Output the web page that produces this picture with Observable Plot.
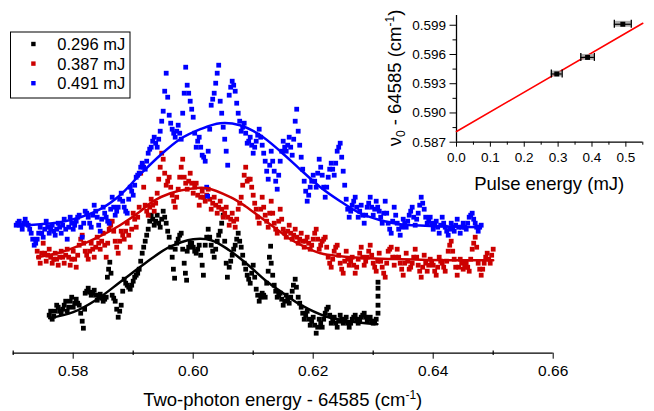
<!DOCTYPE html>
<html><head><meta charset="utf-8">
<script src="https://cdn.jsdelivr.net/npm/d3@7"></script>
<script src="https://cdn.jsdelivr.net/npm/@observablehq/plot@0.6"></script>
<style>
html,body{margin:0;padding:0;background:#fff;}
#wrap{position:relative;width:654px;height:411px;overflow:hidden;}
#inset{position:absolute;left:380px;top:0;}
</style></head><body><div id="wrap"><div id="main"></div><div id="inset"></div></div>
<script>
// ---------- main chart data: [two-photon energy - 64585 (cm^-1), signal (arb. units)] ----------
const seriesNames = ["0.296 mJ", "0.387 mJ", "0.491 mJ"];

const data0296 = [[.5760,38],[.57625,42],[.5765,34],[.57675,37],[.5770,42],[.57725,48],[.5775,46],[.57775,42],[.5780,40],[.57825,44],[.5785,48],[.57875,52],[.5790,42],[.57925,46],[.5795,52],[.57975,56],[.5800,46],[.58025,50],[.5805,54],[.58075,50],[.5810,48],[.58125,40],[.5815,32],[.5817,25],[.5819,44],[.5820,60],[.58225,62],[.5825,65],[.58275,61],[.5830,58],[.58325,60],[.5835,63],[.58375,58],[.5840,53],[.58425,56],[.5845,59],[.58475,55],[.5850,52],[.58525,54],[.5855,56],[.5857,76],[.5859,84],[.5861,91],[.5863,80],[.5865,58],[.58675,55],[.5870,52],[.58725,44],[.5875,36],[.58775,42],[.5880,48],[.58825,62],[.5885,74],[.58875,70],[.5890,68],[.58925,66],[.5895,64],[.58975,68],[.5900,72],[.59025,76],[.5905,78],[.59075,80],[.5910,84],[.59125,92],[.5915,100],[.59175,106],[.5920,112],[.59225,118],[.5925,124],[.59275,132],[.5930,138],[.59325,134],[.5935,128],[.59375,132],[.5940,138],[.59425,130],[.5945,126],[.59475,134],[.5950,142],[.59525,136],[.5955,130],[.59575,122],[.5960,116],[.59625,106],[.5965,96],[.5967,84],[.5969,75],[.5970,104],[.59725,110],[.5975,114],[.59775,118],[.5980,120],[.59825,104],[.5985,90],[.5987,80],[.5989,73],[.5990,102],[.59925,106],[.5995,110],[.59975,110],[.6000,106],[.60025,102],[.6005,100],[.60075,104],[.6010,108],[.60125,98],[.6015,88],[.6017,78],[.6020,108],[.60225,116],[.6025,124],[.60275,116],[.6030,108],[.60325,102],[.6035,96],[.60375,104],[.6040,112],[.60425,118],[.6045,122],[.60475,130],[.6050,138],[.60525,112],[.6055,90],[.6057,76],[.6060,86],[.60625,92],[.6065,98],[.60675,104],[.6070,108],[.60725,114],[.6075,120],[.60775,112],[.6080,106],[.60825,98],[.6085,90],[.60875,84],[.6090,78],[.60925,74],[.6095,70],[.60975,80],[.6100,88],[.61025,76],[.6105,64],[.61075,58],[.6110,52],[.61125,56],[.6115,60],[.61175,58],[.6120,56],[.61225,70],[.6125,82],[.6127,96],[.6129,107],[.6130,90],[.61325,78],[.6135,68],[.61375,62],[.6140,56],[.61425,58],[.6145,60],[.61475,54],[.6150,48],[.61525,52],[.6155,58],[.61575,54],[.6160,50],[.61625,56],[.6165,62],[.6167,68],[.6170,74],[.6172,66],[.6175,56],[.61775,50],[.6180,46],[.61825,40],[.6185,34],[.61875,38],[.6190,42],[.61925,34],[.6195,28],[.61975,32],[.6200,36],[.62025,28],[.6205,20],[.62075,26],[.6210,34],[.62125,30],[.6215,26],[.62175,34],[.6220,40],[.62225,44],[.6225,46],[.62275,38],[.6230,30],[.62325,32],[.6235,36],[.62375,30],[.6240,26],[.62425,32],[.6245,38],[.62475,34],[.6250,30],[.62525,32],[.6255,36],[.62575,30],[.6260,26],[.62625,30],[.6265,34],[.62675,36],[.6270,38],[.62725,34],[.6275,30],[.62775,32],[.6280,36],[.62825,38],[.6285,40],[.62875,36],[.6290,32],[.62925,34],[.6295,36],[.62975,32],[.6300,30],[.63025,32],[.6305,34],[.6308,40],[.6308,48],[.6308,57],[.6308,65],[.6308,71]];

const data0387 = [[.5740,102],[.57425,96],[.5745,90],[.57475,100],[.5750,110],[.57525,100],[.5755,92],[.57575,98],[.5760,104],[.57625,96],[.5765,90],[.57675,94],[.5770,100],[.57725,94],[.5775,88],[.57775,96],[.5780,102],[.57825,96],[.5785,90],[.57875,98],[.5790,104],[.57925,96],[.5795,88],[.57975,94],[.5800,102],[.58025,94],[.5805,86],[.58075,98],[.5810,108],[.58125,114],[.5815,118],[.58175,110],[.5820,102],[.58225,98],[.5825,94],[.58275,102],[.5830,110],[.58325,104],[.5835,96],[.58375,106],[.5840,116],[.58425,110],[.5845,104],[.58475,112],[.5850,120],[.58525,108],[.5855,96],[.58575,110],[.5860,124],[.58625,128],[.5865,132],[.58675,122],[.5870,112],[.58725,106],[.5875,100],[.58775,112],[.5880,122],[.58825,118],[.5885,114],[.58875,122],[.5890,130],[.58925,118],[.5895,106],[.58975,124],[.5900,140],[.59025,134],[.5905,126],[.59075,136],[.5910,146],[.59125,180],[.5915,188],[.59175,166],[.5920,148],[.59225,142],[.5925,138],[.59275,146],[.5930,154],[.59325,148],[.5935,142],[.59375,150],[.5940,160],[.59425,174],[.5945,186],[.59475,200],[.5950,194],[.59525,180],[.5955,168],[.59575,172],[.5960,176],[.59625,166],[.5965,158],[.59675,152],[.5970,146],[.59725,156],[.5975,164],[.59775,176],[.5980,186],[.59825,194],[.5985,176],[.59875,170],[.5990,164],[.59925,172],[.5995,180],[.59975,170],[.6000,160],[.60025,166],[.6005,170],[.60075,158],[.6010,148],[.60125,156],[.6015,162],[.60175,156],[.6020,152],[.60225,158],[.6025,164],[.60275,154],[.6030,144],[.60325,150],[.6035,156],[.60375,148],[.6040,140],[.60425,146],[.6045,152],[.60475,144],[.6050,136],[.60525,140],[.6055,146],[.60575,136],[.6060,128],[.60625,134],[.6065,140],[.60675,132],[.6070,126],[.60725,134],[.6075,144],[.60775,150],[.6080,156],[.60825,168],[.6085,178],[.60875,186],[.6090,172],[.60925,174],[.6095,174],[.60975,166],[.6100,158],[.61025,150],[.6105,144],[.61075,136],[.6110,130],[.61125,144],[.6115,156],[.61175,146],[.6120,138],[.61225,132],[.6125,126],[.61275,140],[.6130,152],[.61325,140],[.6135,130],[.61375,124],[.6140,120],[.61425,132],[.6145,144],[.61475,134],[.6150,124],[.61525,120],[.6155,116],[.61575,122],[.6160,128],[.61625,120],[.6165,114],[.61675,118],[.6170,124],[.61725,116],[.6175,110],[.61775,114],[.6180,120],[.61825,112],[.6185,106],[.61875,112],[.6190,116],[.61925,110],[.6195,104],[.61975,108],[.6200,114],[.62025,120],[.6205,124],[.62075,114],[.6210,104],[.62125,108],[.6215,112],[.62175,114],[.6220,116],[.62225,106],[.6225,96],[.62275,90],[.6230,86],[.62325,94],[.6235,102],[.62375,106],[.6240,108],[.62425,98],[.6245,90],[.62475,84],[.6250,80],[.62525,92],[.6255,102],[.62575,94],[.6260,88],[.62625,92],[.6265,96],[.62675,88],[.6270,80],[.62725,86],[.6275,94],[.62775,100],[.6280,106],[.62825,96],[.6285,88],[.62875,92],[.6290,96],[.62925,102],[.6295,108],[.62975,98],[.6300,90],[.63025,86],[.6305,82],[.63075,92],[.6310,100],[.63125,92],[.6315,86],[.63175,80],[.6320,76],[.63225,90],[.6325,102],[.63275,104],[.6330,106],[.63325,96],[.6335,88],[.63375,96],[.6340,104],[.63425,96],[.6345,90],[.63475,84],[.6350,78],[.63525,90],[.6355,100],[.63575,92],[.6360,84],[.63625,86],[.6365,90],[.63675,96],[.6370,104],[.63725,96],[.6375,88],[.63775,82],[.6380,76],[.63825,86],[.6385,98],[.63875,90],[.6390,82],[.63925,88],[.6395,94],[.63975,90],[.6400,88],[.64025,82],[.6405,78],[.64075,86],[.6410,96],[.64125,92],[.6415,90],[.64175,86],[.6420,82],[.64225,92],[.6425,102],[.64275,108],[.6430,112],[.64325,102],[.6435,94],[.64375,86],[.6440,78],[.64425,86],[.6445,94],[.64475,90],[.6450,84],[.64525,86],[.6455,90],[.64575,86],[.6460,82],[.64625,94],[.6465,104],[.64675,110],[.6470,116],[.64725,106],[.6475,90],[.64775,84],[.6480,78],[.64825,84],[.6485,90],[.64875,96],[.6490,100],[.64925,94],[.6495,90],[.64975,98],[.6500,104]];

const data0491 = [[.5705,128],[.57075,130],[.5710,132],[.57125,128],[.5715,124],[.57175,130],[.5720,134],[.57225,130],[.5725,128],[.57275,124],[.5730,120],[.57325,114],[.5735,108],[.57375,110],[.5740,114],[.57425,120],[.5745,126],[.57475,120],[.5750,116],[.57525,124],[.5755,132],[.57575,126],[.5760,120],[.57625,124],[.5765,128],[.57675,122],[.5770,118],[.57725,124],[.5775,130],[.57775,126],[.5780,120],[.57825,128],[.5785,134],[.57875,124],[.5790,114],[.57925,126],[.5795,136],[.57975,130],[.5800,124],[.58025,128],[.5805,132],[.58075,136],[.5810,138],[.58125,126],[.5815,116],[.58175,130],[.5820,142],[.58225,140],[.5825,136],[.58275,130],[.5830,126],[.58325,138],[.5835,148],[.58375,142],[.5840,136],[.58425,128],[.5845,122],[.58475,134],[.5850,146],[.58525,140],[.5855,136],[.58575,132],[.5860,130],[.58625,144],[.5865,156],[.58675,146],[.5870,138],[.58725,142],[.5875,146],[.58775,154],[.5880,160],[.58825,152],[.5885,146],[.58875,142],[.5890,140],[.58925,154],[.5895,166],[.58975,162],[.5900,158],[.59025,168],[.5905,176],[.59075,178],[.5910,180],[.59125,186],[.5915,190],[.59175,186],[.5920,184],[.59225,192],[.5925,200],[.59275,204],[.5930,206],[.59325,212],[.5935,216],[.59375,210],[.5940,206],[.59425,214],[.5945,222],[.59475,232],[.5950,242],[.59525,262],[.5955,280],[.59575,256],[.5960,238],[.59625,230],[.5965,224],[.59675,220],[.5970,216],[.59725,222],[.5975,228],[.59775,220],[.5980,214],[.59825,240],[.5985,260],[.59875,286],[.5990,268],[.59925,260],[.5995,252],[.59975,244],[.6000,236],[.60025,220],[.6005,206],[.60075,212],[.6010,216],[.60125,206],[.6015,198],[.60175,196],[.6020,192],[.60225,166],[.6024,157],[.6025,202],[.60275,224],[.6030,248],[.60325,254],[.6035,260],[.60375,270],[.6040,280],[.60425,288],[.6045,252],[.60475,240],[.6050,226],[.60525,214],[.6055,202],[.60575,188],[.6060,258],[.60625,266],[.6065,272],[.60675,268],[.6070,262],[.60725,250],[.6075,240],[.60775,232],[.6080,222],[.60825,226],[.6085,230],[.60875,220],[.6090,210],[.60925,212],[.6095,216],[.60975,208],[.6100,200],[.61025,206],[.6105,212],[.61075,218],[.6110,224],[.61125,216],[.6115,208],[.61175,200],[.6120,192],[.61225,182],[.6125,174],[.61275,188],[.6130,202],[.61325,192],[.6135,182],[.61375,172],[.6140,164],[.61425,178],[.6145,192],[.61475,202],[.6150,212],[.61525,206],[.6155,202],[.61575,208],[.6160,216],[.61625,206],[.6165,198],[.61675,214],[.6170,232],[.61725,244],[.6175,222],[.61775,208],[.6180,196],[.61825,184],[.6185,172],[.61875,162],[.6190,152],[.61925,158],[.6195,166],[.61975,172],[.6200,178],[.62025,172],[.6205,166],[.62075,180],[.6210,194],[.62125,186],[.6215,178],[.62175,166],[.6220,156],[.62225,166],[.6225,176],[.62275,184],[.6230,190],[.62325,184],[.6235,178],[.62375,190],[.6240,202],[.62425,206],[.6245,210],[.62475,196],[.6250,182],[.62525,168],[.6255,154],[.62575,144],[.6260,136],[.62625,142],[.6265,148],[.62675,152],[.6270,156],[.62725,146],[.6275,136],[.62775,142],[.6280,148],[.62825,138],[.6285,130],[.62875,138],[.6290,146],[.62925,150],[.6295,156],[.62975,146],[.6300,138],[.63025,144],[.6305,152],[.63075,146],[.6310,142],[.63125,136],[.6315,130],[.63175,140],[.6320,152],[.63225,140],[.6325,130],[.63275,124],[.6330,120],[.63325,132],[.6335,146],[.63375,138],[.6340,130],[.63425,124],[.6345,118],[.63475,126],[.6350,134],[.63525,130],[.6355,126],[.63575,132],[.6360,138],[.63625,142],[.6365,146],[.63675,136],[.6370,128],[.63725,134],[.6375,140],[.63775,148],[.6380,156],[.63825,150],[.6385,144],[.63875,136],[.6390,130],[.63925,132],[.6395,136],[.63975,130],[.6400,124],[.64025,128],[.6405,132],[.64075,126],[.6410,120],[.64125,128],[.6415,136],[.64175,130],[.6420,126],[.64225,122],[.6425,118],[.64275,124],[.6430,130],[.64325,126],[.6435,122],[.64375,128],[.6440,134],[.64425,126],[.6445,120],[.64475,126],[.6450,130],[.64525,126],[.6455,124],[.64575,130],[.6460,136],[.64625,138],[.6465,140],[.64675,134],[.6470,130],[.64725,126],[.6475,122],[.64775,126],[.6480,128]];

// Gaussian fit curves
const fit0296 = [[.576,35],[.580,41],[.584,54],[.588,72],[.592,90],[.596,106],[.600,114],[.603,113],[.606,103],[.609,89],[.612,73],[.615,60],[.618,48],[.622,37],[.626,32],[.6307,29]];
const fit0387 = [[.574,96],[.578,101],[.5812,108],[.5845,117],[.5878,128],[.5912,142],[.5933,152],[.5962,160],[.599,164],[.6023,165],[.6062,156],[.6087,147],[.6112,136],[.6137,125],[.6162,114],[.6187,106],[.6212,100],[.6245,97],[.6295,95],[.6345,94],[.6428,93],[.650,93]];
const fit0491 = [[.5707,127],[.5745,129],[.5778,131],[.5812,136],[.5845,144],[.5878,158],[.5912,179],[.5945,198],[.5978,214],[.6012,224],[.6045,230],[.6078,228],[.6112,218],[.6145,202],[.6178,184],[.6212,166],[.6245,152],[.6278,140],[.6312,133],[.6345,129],[.6412,127],[.6478,126]];

const xMajorTicks = [0.58, 0.60, 0.62, 0.64, 0.66];
const xMinorTicks = [0.57, 0.59, 0.61, 0.63, 0.65];

// ---------- inset data ----------
const pulseEnergy = [0.296, 0.387, 0.491];
const nu0 = [0.5940, 0.5957, 0.5991];
const energyErr = [0.016, 0.020, 0.025];
const nu0Err = [0.0003, 0.0003, 0.0003];
const linearFit = [[0, 0.5881], [0.55, 0.5992]];
const insetXTicks = [0.0, 0.1, 0.2, 0.3, 0.4, 0.5];
const insetXMinor = [0.05, 0.15, 0.25, 0.35, 0.45, 0.55];
const insetYTicks = [0.587, 0.590, 0.593, 0.596, 0.599];
const insetYMinor = [0.5885, 0.5915, 0.5945, 0.5975];

const colors = ["#000000", "#cc0000", "#0000ff"];
const FONT = "'Liberation Sans', Arial, Helvetica, sans-serif";

const seriesData = [data0296, data0387, data0491];
const fits = [fit0296, fit0387, fit0491];

const main = Plot.plot({
  width: 654, height: 411,
  marginLeft: 12.7, marginRight: 101.3, marginTop: 20.7, marginBottom: 58.3,
  style: {fontFamily: FONT, fontSize: "15.5px", background: "white", color: "#000"},
  x: {domain: [0.57, 0.66], ticks: xMajorTicks, tickFormat: d3.format(".2f"), tickSize: 6, tickPadding: 6, label: null},
  y: {domain: [0, 332], axis: null},
  marks: [
    Plot.ruleY([0], {stroke: "#000", strokeWidth: 1.2}),
    Plot.ruleX(xMinorTicks, {x: d => d, y1: d => -2.3, y2: d => 2.3, stroke: "#000", strokeWidth: 1.2}),
    ...seriesData.map((s, i) => Plot.dot(s, {x: d => d[0], y: d => d[1], symbol: "square", r: 2.7, fill: colors[i], stroke: "none"})),
    ...fits.map((f, i) => Plot.line(f, {x: d => d[0], y: d => d[1], stroke: colors[i], strokeWidth: 2.5, curve: "catmull-rom"}))
  ]
});
document.getElementById("main").appendChild(main);

const sm = d3.select(main);
// x-axis title
const t = sm.append("text").attr("x", 282.7).attr("y", 406).attr("text-anchor", "middle")
  .attr("font-family", FONT).attr("font-size", 18.5).attr("fill", "#000");
t.append("tspan").text("Two-photon energy - 64585 (cm");
t.append("tspan").attr("font-size", 12).attr("dy", -7).text("-1");
t.append("tspan").attr("dy", 7).text(")");

// legend
const lg = sm.append("g");
lg.append("rect").attr("x", 10.5).attr("y", 32).attr("width", 119.5).attr("height", 66)
  .attr("fill", "white").attr("stroke", "#000").attr("stroke-width", 1);
seriesNames.forEach((name, i) => {
  const cy = 44 + i * 19.6;
  lg.append("rect").attr("x", 31.2).attr("y", cy - 2.2).attr("width", 4.4).attr("height", 4.4).attr("fill", colors[i]);
  lg.append("text").attr("x", 57.3).attr("y", cy + 6).attr("text-anchor", "start")
    .attr("font-family", FONT).attr("font-size", 16.5).attr("fill", "#000").text(name);
});

// ---------- inset ----------
const idx = [0, 1, 2];
const caps = [];
idx.forEach(i => { caps.push({x: pulseEnergy[i] - energyErr[i], y: nu0[i]}); caps.push({x: pulseEnergy[i] + energyErr[i], y: nu0[i]}); });
const pxY = 0.013 / 126.7; // one pixel in inset y units
const pxX = 0.55 / 186.3;   // one pixel in inset x units

const inset = Plot.plot({
  width: 274, height: 200,
  marginLeft: 76, marginRight: 11.7, marginTop: 15, marginBottom: 58.3,
  style: {fontFamily: FONT, fontSize: "13.5px", background: "transparent", color: "#000", overflow: "visible"},
  x: {domain: [0, 0.55], ticks: insetXTicks, tickFormat: d3.format(".1f"), tickSize: 5, tickPadding: 5, label: null},
  y: {domain: [0.587, 0.600], ticks: insetYTicks, tickFormat: d3.format(".3f"), tickSize: 6.5, tickPadding: 4, label: null},
  marks: [
    Plot.ruleX([0], {stroke: "#000", strokeWidth: 1.3}),
    Plot.ruleY([0.587], {stroke: "#000", strokeWidth: 1.3}),
    Plot.ruleX(insetXMinor, {x: d => d, y1: d => 0.587 - 3 * pxY, y2: d => 0.587, stroke: "#000"}),
    Plot.ruleY(insetYMinor, {y: d => d, x1: d => -3.5 * pxX, x2: d => 0, stroke: "#000"}),
    Plot.line(linearFit, {x: d => d[0], y: d => d[1], stroke: "#ff0000", strokeWidth: 1.6}),
    Plot.rect(idx, {x1: i => pulseEnergy[i] - energyErr[i], x2: i => pulseEnergy[i] + energyErr[i], y1: i => nu0[i] - nu0Err[i], y2: i => nu0[i] + nu0Err[i], fill: "#9a9a9a", fillOpacity: 0.8}),
    Plot.ruleY(idx, {y: i => nu0[i], x1: i => pulseEnergy[i] - energyErr[i], x2: i => pulseEnergy[i] + energyErr[i], stroke: "#000", strokeWidth: 1.2}),
    Plot.ruleX(caps, {x: "x", y1: d => d.y - 4 * pxY, y2: d => d.y + 4 * pxY, stroke: "#000", strokeWidth: 1.3}),
    Plot.dot(idx, {x: i => pulseEnergy[i], y: i => nu0[i], symbol: "square", r: 2.8, fill: "#000", stroke: "none"})
  ]
});
document.getElementById("inset").appendChild(inset);

const si = d3.select(inset);
si.append("text").attr("x", 169.2).attr("y", 190).attr("text-anchor", "middle")
  .attr("font-family", FONT).attr("font-size", 18.5).attr("fill", "#000").text("Pulse energy (mJ)");
const yt = si.append("text").attr("transform", "translate(21,78) rotate(-90)").attr("text-anchor", "middle")
  .attr("font-family", FONT).attr("font-size", 18.5).attr("fill", "#000");
yt.append("tspan").text("ν");
yt.append("tspan").attr("font-size", 12).attr("dy", 4).text("0");
yt.append("tspan").attr("dy", -4).text(" - 64585 (cm");
yt.append("tspan").attr("font-size", 12).attr("dy", -7).text("-1");
yt.append("tspan").attr("dy", 7).text(")");
</script></body></html>
